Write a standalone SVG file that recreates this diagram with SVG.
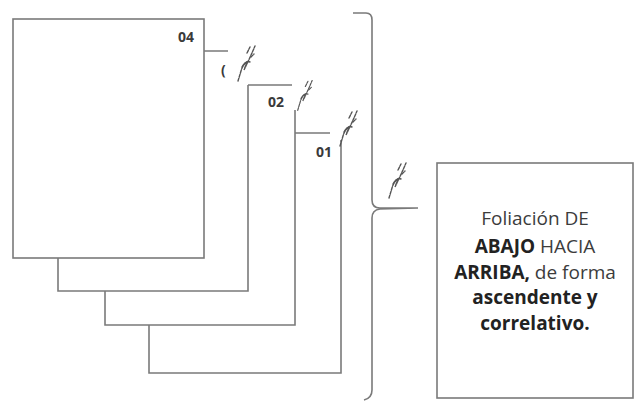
<svg xmlns="http://www.w3.org/2000/svg" width="634" height="402" viewBox="0 0 634 402">
<style>
.ln{fill:none;stroke:#7a7a7a;stroke-width:1.6;stroke-linejoin:miter}
.lbl{font-family:"Open Sans","Noto Sans",sans-serif;font-weight:bold;font-size:14px;fill:#3a3a3a}
.sig{fill:none;stroke:#555;stroke-width:1.4;stroke-linecap:round;stroke-dasharray:3 1.2}
.txt{font-family:"Open Sans","Noto Sans",sans-serif;font-size:19px;fill:#3c3c3c;text-anchor:middle}
.b{font-weight:bold;fill:#222}
</style>
<defs>
<g id="signature">
<path d="M2,38 L5,28 Q7,21 11,19 L8,27 Q13,17 19,3"/>
<path d="M6,24 q4,-7 8,-5"/>
<path d="M11,10 l3,-6 M15,14 l3,-3"/>
</g>
</defs>
<g id="connectors">
<path id="brace" class="ln" d="M353,13 L366,13 Q372,13 372,20 L372,200 Q372,208 380,208 L418,208 L380,209 Q372,210 372,218 L372,390 Q372,398 364,400"/>
</g>
<g id="page01">
<path class="ln" d="M295,133 L330,133 M341,140 L341,373 L149,373 L149,325"/>
<text class="lbl" x="316" y="157">01</text>
<use href="#signature" class="sig" transform="translate(338,108)"/>
</g>
<g id="page02">
<path class="ln" d="M248,85 L292,85 M295,110 L295,325 L105,325 L105,291"/>
<text class="lbl" x="268" y="107">02</text>
<use href="#signature" class="sig" transform="translate(296,78) scale(0.85)"/>
</g>
<g id="page03">
<path class="ln" d="M204,51 L228,51 M248,85 L248,291 L58,291 L58,258"/>
<text class="lbl" x="221" y="75">(</text>
<use href="#signature" class="sig" transform="translate(236,43)"/>
</g>
<g id="page04">
<rect class="ln" x="13" y="19" width="191" height="239" fill="#fff"/>
<text class="lbl" x="178" y="42">04</text>
</g>
<g id="sig-brace">
<use href="#signature" class="sig" transform="translate(387,160)"/>
</g>
<g id="note">
<rect class="ln" x="437" y="163" width="196" height="235" fill="#fff"/>
<text class="txt" x="535" y="225">Foliación DE</text>
<text class="txt" x="535" y="253"><tspan class="b">ABAJO</tspan> HACIA</text>
<text class="txt" x="535" y="279"><tspan class="b">ARRIBA,</tspan> de forma</text>
<text class="txt" x="535" y="304"><tspan class="b">ascendente y</tspan></text>
<text class="txt b" x="535" y="330">correlativo.</text>
</g>
</svg>
